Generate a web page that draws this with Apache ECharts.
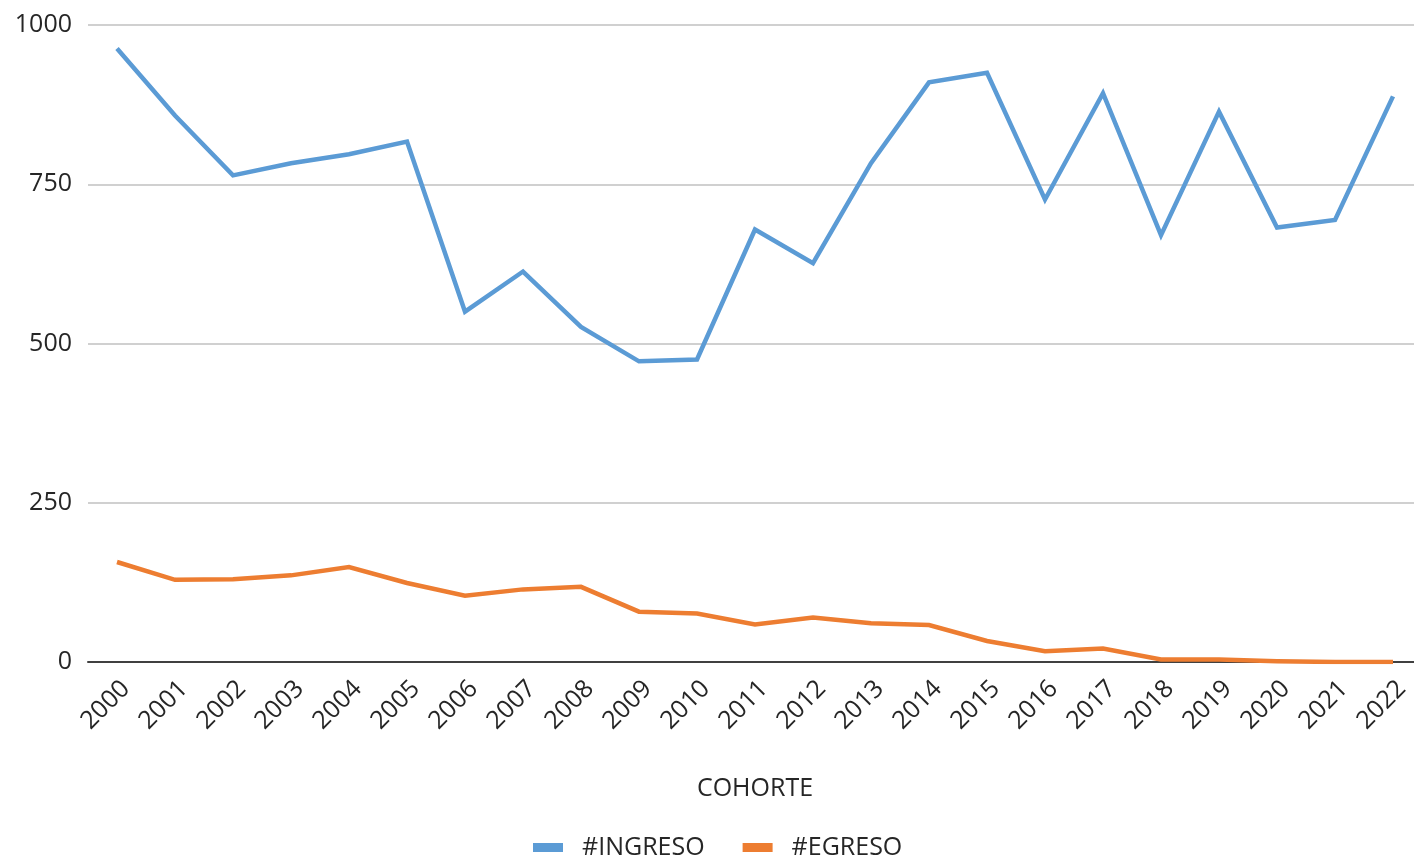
<!DOCTYPE html>
<html>
<head>
<meta charset="utf-8">
<script src="https://cdn.jsdelivr.net/npm/echarts@6/dist/echarts.min.js"></script>
<style>
  html, body { margin: 0; padding: 0; background: #fff; }
  #chart { width: 1414px; height: 861px; }
</style>
</head>
<body>
<div id="chart"></div>
<script>
// cohort years
var cohortes = ['2000','2001','2002','2003','2004','2005','2006','2007','2008','2009','2010',
  '2011','2012','2013','2014','2015','2016','2017','2018','2019','2020','2021','2022'];

var ingreso = [963, 858, 764, 783, 797, 817, 550, 613, 526, 472, 475,
  679, 626, 783, 910, 925, 726, 893, 670, 864, 682, 694, 888];

var egreso = [157, 129, 130, 136, 149, 124, 104, 114, 118, 79, 76,
  59, 70, 61, 58, 33, 17, 21, 4, 4, 1, 0, 0];

var yTicks = [0, 250, 500, 750, 1000];

var font = '"Open Sans", "Liberation Sans", sans-serif';

var chart = echarts.init(document.getElementById('chart'));

chart.setOption({
  animation: false,
  grid: {
    left: 88,
    width: 1334,
    top: 25,
    bottom: 199,
    outerBoundsMode: 'none',
    containLabel: false
  },
  legend: {
    bottom: -4,
    left: 528,
    itemWidth: 30,
    itemHeight: 9,
    itemGap: 38,
    icon: 'rect',
    textStyle: { fontFamily: font, fontSize: 25, color: '#262626', padding: [0, 0, 0, 14] },
    data: ['#INGRESO', '#EGRESO']
  },
  xAxis: {
    type: 'category',
    data: cohortes,
    boundaryGap: true,
    name: 'COHORTE',
    nameLocation: 'middle',
    nameGap: 114,
    nameTextStyle: { fontFamily: font, fontSize: 25, color: '#262626' },
    axisLine: { lineStyle: { color: '#404040', width: 2 } },
    axisTick: { show: false },
    axisLabel: {
      rotate: 45,
      margin: 14,
      interval: 0,
      verticalAlign: 'top',
      fontFamily: font,
      fontSize: 25,
      color: '#262626'
    }
  },
  yAxis: {
    type: 'value',
    min: yTicks[0],
    max: yTicks[yTicks.length - 1],
    interval: 250,
    axisLine: { show: false },
    axisTick: { show: false },
    axisLabel: {
      margin: 16,
      fontFamily: font,
      fontSize: 25,
      color: '#262626',
      formatter: function (v) { return String(v); }
    },
    splitLine: { lineStyle: { color: '#d0d0d0', width: 2 } }
  },
  series: [
    {
      name: '#INGRESO',
      type: 'line',
      data: ingreso,
      symbol: 'none',
      color: '#5B9BD5',
      lineStyle: { width: 4.5, color: '#5B9BD5', join: 'miter' }
    },
    {
      name: '#EGRESO',
      type: 'line',
      data: egreso,
      symbol: 'none',
      color: '#ED7D31',
      lineStyle: { width: 4.5, color: '#ED7D31', join: 'miter' }
    }
  ]
});
</script>
</body>
</html>
